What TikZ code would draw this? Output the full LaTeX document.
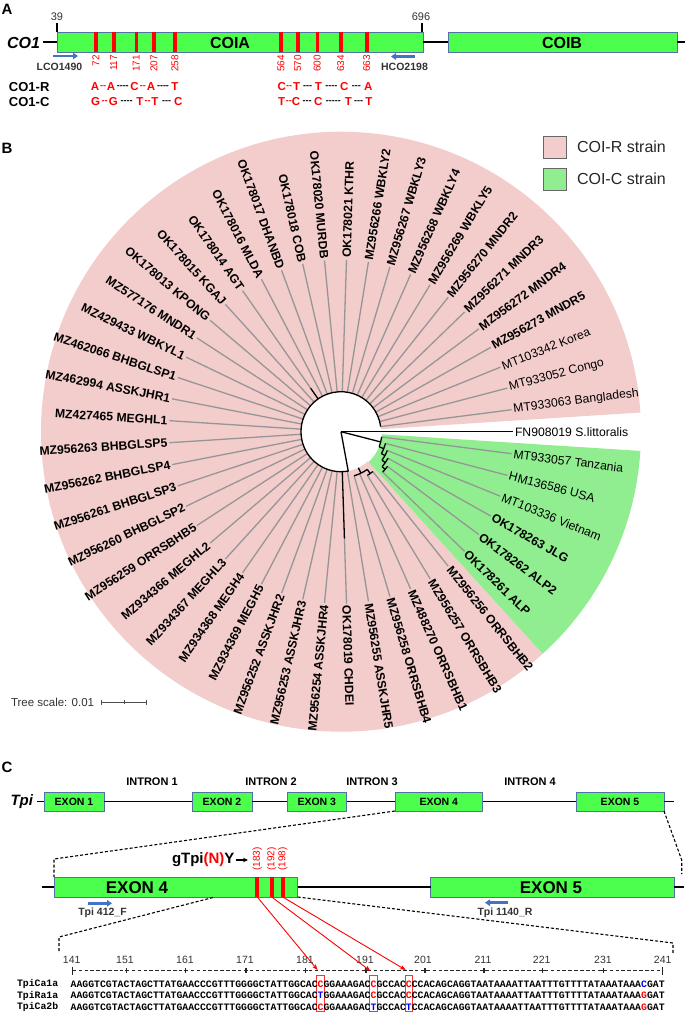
\documentclass[tikz,border=0pt]{standalone}
\usepackage{fontspec}
\setmainfont{Liberation Sans}
\setmonofont{Liberation Mono}
\usetikzlibrary{arrows.meta}
\definecolor{genegreen}{RGB}{76,255,76}
\definecolor{boxblue}{RGB}{84,112,168}
\definecolor{primerblue}{RGB}{68,114,196}
\definecolor{pinkw}{RGB}{243,204,204}
\definecolor{greenw}{RGB}{144,238,144}
\definecolor{leafgray}{RGB}{150,150,150}
\newcommand\fs[1]{\fontsize{#1}{#1}\selectfont}
\newcommand\hy{-\kern0pt}
\newcommand\redc[1]{\textcolor{red}{#1}}
\newcommand\bluec[1]{\textcolor{blue}{#1}}
\begin{document}
\begin{tikzpicture}[x=1pt,y=-1pt,
  every node/.style={inner sep=0pt, outer sep=0pt},
  gene/.style={draw=boxblue, line width=0.7pt, fill=genegreen},
  gline/.style={line width=1.4pt, draw=black},
  redbar/.style={fill=red, draw=none},
  primer/.style={draw=primerblue, line width=2.6pt, -{Triangle[length=5pt,width=6.5pt]}},
  primerlab/.style={font=\bfseries\fs{10.5}, text=black!80},
  poslab/.style={font=\fs{10}, text=red, rotate=90},
  snpl/.style={font=\bfseries\fs{11.5}, text=red},
  snpd/.style={font=\bfseries\fs{9}},
  rowlab/.style={font=\bfseries\fs{13}, anchor=west},
  panellab/.style={font=\bfseries\fs{15}},
  leafline/.style={draw=leafgray, line width=1.3pt},
  treebranch/.style={draw=black, line width=1.3pt},
  leaflab/.style={font=\fs{12.2}},
  exonlab/.style={font=\bfseries\fs{10.5}},
  intronlab/.style={font=\bfseries\fs{11}},
  zoomdash/.style={draw=black, line width=1.1pt, dash pattern=on 3pt off 2pt},
  redarrow/.style={draw=red, line width=0.9pt, -{Stealth[length=6pt,width=4.5pt]}},
  seqbox/.style={draw=red!80, line width=0.8pt, minimum width=7.5pt, minimum height=36pt},
  seqfont/.style={font=\ttfamily\bfseries\fs{9.8}, anchor=west},
  rulerlab/.style={font=\fs{10.5}, text=black!80},
]
\useasboundingbox (0,0) rectangle (685,1012);

% ================= Panel A =================
\node[panellab] (pA) at (7,9) {A};
\coordinate (a0) at (43,42);
\coordinate (a1) at (685,42);
\draw[gline] (a0) -- (57,42);
\node[gene, minimum width=366pt, minimum height=20pt] (coia) at (240,42) {};
\node[gene, minimum width=229pt, minimum height=20pt] (coib) at (562.5,42) {};
\draw[gline] (coia.east) -- (coib.west) (coib.east) -- (a1);
\node[font=\bfseries\itshape\fs{16}, anchor=east] (co1) at (40,42.5) {CO1};
\node[font=\bfseries\fs{16}] (coiat) at (230,42.5) {COIA};
\node[font=\bfseries\fs{16}] (coibt) at (562,42.5) {COIB};
\coordinate (t39) at (57,23);
\coordinate (t696) at (422,23);
\draw[gline, line width=1.2pt] (t39) -- (coia.north west);
\draw[gline, line width=1.2pt] (t696) -- (422,32);
\node[font=\fs{11}, text=black!80] (n39) at (57,17) {39};
\node[font=\fs{11}, text=black!80] (n696) at (421,17) {696};
\foreach \x/\p in {96/72, 113.7/117, 136.3/171, 154/207, 175/258, 281/564, 297.7/570, 317.3/600, 340.7/634, 366.7/663}{
  \node[redbar, minimum width=3.6pt, minimum height=20pt] (bar\p) at (\x,42) {};
  \node[poslab, anchor=east] (pos\p) at (\x,55) {\p};
}
\coordinate (lcoS) at (53,56); \coordinate (lcoE) at (78,56);
\draw[primer] (lcoS) -- (lcoE);
\node[primerlab] (lco) at (59.5,66.5) {LCO1490};
\coordinate (hcoS) at (415,56.5); \coordinate (hcoE) at (391,56.5);
\draw[primer] (hcoS) -- (hcoE);
\node[primerlab] (hco) at (404.5,66.5) {HCO2198};
\node[rowlab] (rowR) at (9,87) {CO1-R};
\node[rowlab] (rowC) at (9,101.7) {CO1-C};
% SNP letters
\foreach \x/\y/\l [count=\k] in {95/87/A, 111/87/A, 134.5/87/C, 151/87/A, 175/87/T,
   95.7/101.7/G, 113.3/101.7/G, 140/101.7/T, 155/101.7/T, 178.3/101.7/C,
   281.7/87/C, 296.7/87/T, 318.3/87/T, 344.3/87/C, 368.3/87/A,
   281.7/101.7/T, 296/101.7/C, 318.3/101.7/C, 348.3/101.7/T, 369/101.7/T}
  \node[snpl] (snp\k) at (\x,\y) {\l};
% SNP dashes
\foreach \xa/\xb/\y/\c/\d [count=\k] in {
   95/111/87/red/\hy\hy, 111/134.5/87/black/\hy\hy\hy\hy, 134.5/151/87/red/\hy\hy, 151/175/87/black/\hy\hy\hy\hy,
   95.7/113.3/101.7/red/\hy\hy, 113.3/140/101.7/black/\hy\hy\hy\hy, 140/155/101.7/red/\hy\hy, 155/178.3/101.7/black/\hy\hy\hy,
   281.7/296.7/87/red/\hy\hy, 296.7/318.3/87/black/\hy\hy\hy, 318.3/344.3/87/black/\hy\hy\hy\hy, 344.3/368.3/87/black/\hy\hy\hy,
   281.7/296/101.7/red/\hy\hy, 296/318.3/101.7/black/\hy\hy\hy, 318.3/348.3/101.7/black/\hy\hy\hy\hy\hy, 348.3/369/101.7/black/\hy\hy\hy}
  \node[snpd, text=\c] (dash\k) at ({(\xa+\xb)/2},\y+0.5) {\d};

% ================= Panel B =================
\node[panellab] (pB) at (7,148) {B};
\begin{scope}[shift={(341,431.7)}, x=1pt, y=1pt]
  \fill[pinkw] (3.673:40) arc[start angle=3.673, end angle=312.245, radius=40pt]
     -- (312.245:300) arc[start angle=312.245, end angle=3.673, radius=300pt] -- cycle;
  \fill[greenw] (312.245:41) arc[start angle=312.245, end angle=356.327, radius=41pt]
     -- (356.327:300) arc[start angle=356.327, end angle=312.245, radius=300pt] -- cycle;
  \foreach \i/\lab/\bo/\rr in {
    0/FN908019 S.littoralis/0/172,
    1/MT933063 Bangladesh/0/40, 2/MT933052 Congo/0/40, 3/MT103342 Korea/0/40,
    4/MZ956273 MNDR5/1/40, 5/MZ956272 MNDR4/1/40, 6/MZ956271 MNDR3/1/40,
    7/MZ956270 MNDR2/1/40, 8/MZ956269 WBKLY5/1/40, 9/MZ956268 WBKLY4/1/40,
    10/MZ956267 WBKLY3/1/40, 11/MZ956266 WBKLY2/1/40, 12/OK178021 KTHR/1/40,
    13/OK178020 MURDB/1/40, 14/OK178018 COB/1/40, 15/OK178017 DHANBD/1/40,
    16/OK178016 MLDA/1/40, 17/OK178014 AGT/1/53, 18/OK178015 KGAJ/1/40,
    19/OK178013 KPONG/1/40, 20/MZ577176 MNDR1/1/40, 21/MZ429433 WBKYL1/1/40,
    22/MZ462066 BHBGLSP1/1/40, 23/MZ462994 ASSKJHR1/1/40, 24/MZ427465 MEGHL1/1/40,
    25/MZ956263 BHBGLSP5/1/40, 26/MZ956262 BHBGLSP4/1/40, 27/MZ956261 BHBGLSP3/1/40,
    28/MZ956260 BHBGLSP2/1/40, 29/MZ956259 ORRSBHB5/1/40, 30/MZ934366 MEGHL2/1/40,
    31/MZ934367 MEGHL3/1/40, 32/MZ934368 MEGH4/1/40, 33/MZ934369 MEGH5/1/40,
    34/MZ956252 ASSKJHR2/1/40, 35/MZ956253 ASSKJHR3/1/40, 36/MZ956254 ASSKJHR4/1/40,
    37/OK178019 CHDEI/1/107, 38/MZ956255 ASSKJHR5/1/40, 39/MZ956258 ORRSBHB4/1/46,
    40/MZ488270 ORRSBHB1/1/46, 41/MZ956257 ORRSBHB3/1/51, 42/MZ956256 ORRSBHB2/1/51,
    43/OK178261 ALP/1/58, 44/OK178262 ALP2/1/58, 45/OK178263 JLG/1/54,
    46/MT103336 Vietnam/0/50, 47/HM136586 USA/0/46, 48/MT933057 Tanzania/0/41}{
    \pgfmathsetmacro\ang{\i*7.3469388}
    \pgfmathtruncatemacro\flip{(\ang>90 && \ang<270) ? 1 : 0}
    \draw[leafline] (\ang:\rr) -- (\ang:172);
    \ifnum\flip=1
      \pgfmathsetmacro\rot{\ang-180}
      \node[leaflab, anchor=east, rotate=\rot] (L\i) at (\ang:174) {\ifnum\bo=1\bfseries\fi\lab};
    \else
      \node[leaflab, anchor=west, rotate=\ang] (L\i) at (\ang:174) {\ifnum\bo=1\bfseries\fi\lab};
    \fi
  }
  % internal branches
  \draw[treebranch] (0,0) -- (0:172);
  \draw[treebranch] (0,0) -- (280.4:40) arc[start angle=280.4, end angle=7.347, radius=40pt];
  \draw[treebranch] (124.9:40) -- (124.9:53);
  \draw[treebranch] (271.84:40) -- (271.84:107);
  \draw[treebranch] (295.7:40) -- (295.7:46);
  \draw[treebranch] (286.53:46) arc[start angle=286.53, end angle=304.9, radius=46pt];
  \draw[treebranch] (304.9:46) -- (304.9:51);
  \draw[treebranch] (301.22:51) arc[start angle=301.22, end angle=308.57, radius=51pt];
  \draw[treebranch] (0,0) -- (-14.46:41);
  \draw[treebranch] (-7.35:41) arc[start angle=-7.35, end angle=-21.58, radius=41pt];
  \draw[treebranch] (-21.58:41) -- (-21.58:46);
  \draw[treebranch] (-14.69:46) arc[start angle=-14.69, end angle=-28.47, radius=46pt];
  \draw[treebranch] (-28.47:46) -- (-28.47:50);
  \draw[treebranch] (-22.04:50) arc[start angle=-22.04, end angle=-34.9, radius=50pt];
  \draw[treebranch] (-34.9:50) -- (-34.9:54);
  \draw[treebranch] (-29.39:54) arc[start angle=-29.39, end angle=-40.41, radius=54pt];
  \draw[treebranch] (-40.41:54) -- (-40.41:58);
  \draw[treebranch] (-36.73:58) arc[start angle=-36.73, end angle=-44.08, radius=58pt];
\end{scope}
% legend
\node[fill=white, minimum width=134pt, minimum height=63pt, anchor=north west] (legbg) at (538,130) {};
\node[draw=black!60, fill=pinkw, line width=0.8pt, minimum width=23pt, minimum height=22pt] (swR) at (554.5,147) {};
\node[draw=black!60, fill=greenw, line width=0.8pt, minimum width=23pt, minimum height=22pt] (swC) at (554.5,179) {};
\node[font=\fs{16}, anchor=west, text=black!85] (legR) at (577,147) {COI-R strain};
\node[font=\fs{16}, anchor=west, text=black!85] (legC) at (577,179) {COI-C strain};
% tree scale
\node[font=\fs{11.5}, anchor=west, text=black!80] (tscale) at (11,702) {Tree scale: 0.01};
\coordinate (sb0) at (101,702); \coordinate (sb1) at (147,702);
\draw[draw=black!70, line width=0.9pt, {Bar[width=5pt]}-{Bar[width=5pt]}] (sb0) -- (sb1);
\coordinate (sbm0) at (124,700.3); \coordinate (sbm1) at (124,703.7);
\draw[draw=black!70, line width=0.8pt] (sbm0) -- (sbm1);

% ================= Panel C =================
\node[panellab] (pC) at (7,767) {C};
\node[intronlab] (in1) at (152,782) {INTRON 1};
\node[intronlab] (in2) at (271,782) {INTRON 2};
\node[intronlab] (in3) at (372,782) {INTRON 3};
\node[intronlab] (in4) at (530,782) {INTRON 4};
\node[font=\bfseries\itshape\fs{15}, anchor=east] (tpi) at (33,802) {Tpi};
\coordinate (c0) at (37,801.5); \coordinate (c1) at (674,801.5);
\node[gene, minimum width=60pt, minimum height=19pt] (e1) at (74,801.5) {};
\node[gene, minimum width=60pt, minimum height=19pt] (e2) at (222,801.5) {};
\node[gene, minimum width=59.7pt, minimum height=19pt] (e3) at (316.8,801.5) {};
\node[gene, minimum width=87.7pt, minimum height=19pt] (e4s) at (438.8,801.5) {};
\node[gene, minimum width=88pt, minimum height=19pt] (e5s) at (620,801.5) {};
\draw[gline] (c0) -- (e1.west) (e1.east) -- (e2.west) (e2.east) -- (e3.west)
  (e3.east) -- (e4s.west) (e4s.east) -- (e5s.west) (e5s.east) -- (c1);
\node[exonlab] (e1t) at (e1) {EXON 1};
\node[exonlab] (e2t) at (e2) {EXON 2};
\node[exonlab] (e3t) at (e3) {EXON 3};
\node[exonlab] (e4t) at (e4s) {EXON 4};
\node[exonlab] (e5t) at (e5s) {EXON 5};
% zoomed row
\coordinate (c2) at (41.7,887); \coordinate (c3) at (684,887);
\node[gene, minimum width=243.7pt, minimum height=20pt] (e4b) at (175.85,887) {};
\node[gene, minimum width=243.6pt, minimum height=20pt] (e5b) at (552.5,887) {};
\draw[gline] (c2) -- (e4b.west) (e4b.east) -- (e5b.west) (e5b.east) -- (c3);
\node[font=\bfseries\fs{17}] (e4bt) at (137,887.5) {EXON 4};
\node[font=\bfseries\fs{17}] (e5bt) at (551,887.5) {EXON 5};
\foreach \x/\p in {257.3/183, 271.7/192, 282.7/198}{
  \node[redbar, minimum width=4pt, minimum height=20pt] (b\p) at (\x,887) {};
  \node[poslab, anchor=west] (l\p) at (\x,870.5) {(\p)};
}
\node[font=\bfseries\fs{15}, anchor=west] (gtpi) at (172,860) {gTpi\textcolor{red}{(N)}Y};
\coordinate (gtpiE) at (248,860);
\draw[line width=1.1pt, -{Stealth[length=5pt,width=4.5pt]}] (gtpi.east) ++(1.5,0) -- (gtpiE);
% zoom dashed lines
\coordinate (z1) at (54,859);
\draw[zoomdash] (e4s.south west) -- (z1) -- (e4b.north west);
\coordinate (z2) at (681.7,860); \coordinate (z3) at (681.7,874);
\draw[zoomdash] (e5s.south east) -- (z2) -- (z3);
\coordinate (z4) at (213,897.5); \coordinate (z5) at (59,937); \coordinate (z6) at (59,951);
\draw[zoomdash] (z4) -- (z5) -- (z6);
\coordinate (z7) at (673,943); \coordinate (z8) at (673,954);
\draw[zoomdash] (e4b.south east) -- (z7) -- (z8);
% primers
\coordinate (fS) at (88,903.3); \coordinate (fE) at (112,903.3);
\draw[primer] (fS) -- (fE);
\node[primerlab] (fl) at (102.5,913) {Tpi 412\_F};
\coordinate (rS) at (508,902.7); \coordinate (rE) at (485,902.7);
\draw[primer] (rS) -- (rE);
\node[primerlab] (rl) at (505,913) {Tpi 1140\_R};
% ruler
\foreach \x/\n in {71.7/141, 125/151, 185/161, 245/171, 305/181, 365/191, 423/201, 483/211, 541.7/221, 603/231, 662.7/241}
  \node[rulerlab] (r\n) at (\x,960) {\n};
\coordinate (rl0) at (72.7,970.7); \coordinate (rl1) at (662.7,970.7);
\draw[black!85, line width=1pt, dash pattern=on 3.5pt off 2.4pt] (rl0) -- (rl1);
\draw[black!85, line width=1.2pt] (72.7,966.5) -- (72.7,975) (662.7,966.5) -- (662.7,975);
\foreach \x in {126.7,185.7,246,305.7,366,425,484,542.7,603.3}
  \draw[black!85, line width=1.2pt] (\x,968.3) -- (\x,973.1) (\x-2,970.7) -- (\x+2,970.7);
% boxes
\node[seqbox] (sb1) at (320.6,993) {};
\node[seqbox] (sb2) at (373.5,993) {};
\node[seqbox] (sb3) at (408.8,993) {};
\draw[redarrow] (b183.south) -- ([yshift=5pt,xshift=-3pt]sb1.north);
\draw[redarrow] (b192.south) -- ([yshift=4pt,xshift=-3pt]sb2.north);
\draw[redarrow] (b198.south) -- ([yshift=5pt,xshift=-3pt]sb3.north);
% sequences
\node[seqfont] (n1) at (17,984.3) {TpiCa1a};
\node[seqfont] (n2) at (17,995.7) {TpiRa1a};
\node[seqfont] (n3) at (17,1006.9) {TpiCa2b};
\node[seqfont] (s1) at (70.7,984.3) {AAGGTCGTACTAGCTTATGAACCCGTTTGGGGCTATTGGCAC\redc{C}GGAAAGAC\redc{C}GCCAC\redc{C}CCACAGCAGGTAATAAAATTAATTTGTTTTATAAATAAA\bluec{C}GAT};
\node[seqfont] (s2) at (70.7,995.7) {AAGGTCGTACTAGCTTATGAACCCGTTTGGGGCTATTGGCAC\bluec{T}GGAAAGAC\redc{C}GCCAC\redc{C}CCACAGCAGGTAATAAAATTAATTTGTTTTATAAATAAA\redc{G}GAT};
\node[seqfont] (s3) at (70.7,1006.9) {AAGGTCGTACTAGCTTATGAACCCGTTTGGGGCTATTGGCAC\redc{C}GGAAAGAC\bluec{T}GCCAC\bluec{T}CCACAGCAGGTAATAAAATTAATTTGTTTTATAAATAAA\redc{G}GAT};
\end{tikzpicture}
\end{document}
